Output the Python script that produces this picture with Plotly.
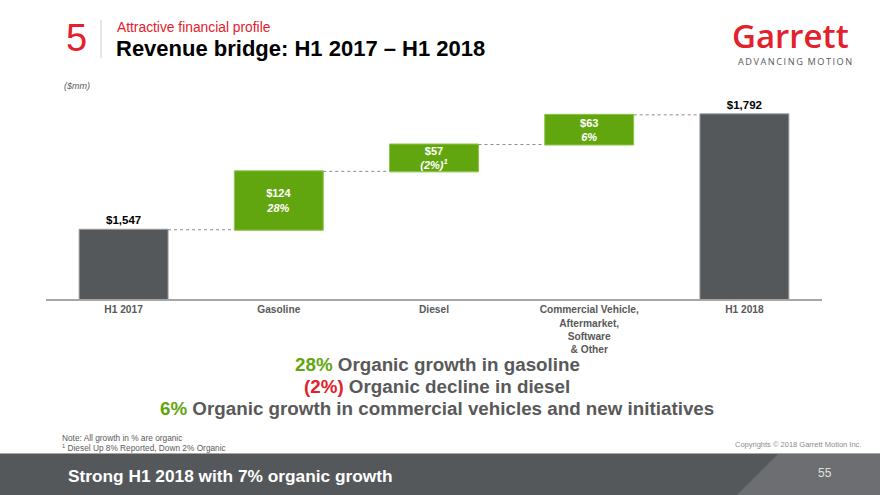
import plotly.graph_objects as go

# ---- data ----
categories = ["H1 2017", "Gasoline", "Diesel", "Commercial Vehicle,<br>Aftermarket,<br>Software<br>& Other", "H1 2018"]
values = [1547, 124, 57, 63, 1792]
measures = ["absolute", "relative", "relative", "relative", "absolute"]
growth = ["", "28%", "(2%)<sup>1</sup>", "6%", ""]

W, H = 880, 495
L, R, T, B = 46, 822, 90, 299  # plot area in pixels
Y0 = 1400
PX_PER_UNIT = 0.471
Y1 = Y0 + (B - T) / PX_PER_UNIT

def fx(px):
    return (px - L) / (R - L)

def fy(py):
    return (B - py) / (B - T)

GREEN = "#62a60f"
DARK = "#54585a"
RED = "#e3202b"
GREYTXT = "#595959"
FONT = "Liberation Sans, Arial, sans-serif"

labels = []
for v, m, g in zip(values, measures, growth):
    if m == "absolute":
        labels.append(f"<b>${v:,}</b>")
    else:
        labels.append(f"<b>${v:,}<br><i>{g}</i></b>")
positions = ["outside" if m == "absolute" else "inside" for m in measures]

fig = go.Figure()
fig.add_trace(go.Waterfall(
    x=categories, y=values, measure=measures,
    width=0.573,
    text=labels, textposition=positions, insidetextanchor="middle",
    textangle=0, constraintext="none", cliponaxis=False,
    insidetextfont=dict(color="white", size=11, family=FONT),
    outsidetextfont=dict(color="black", size=11.5, family=FONT),
    totals=dict(marker=dict(color=DARK, line=dict(color="#9a9c9d", width=1))),
    increasing=dict(marker=dict(color=GREEN, line=dict(color="#8cc447", width=1))),
    decreasing=dict(marker=dict(color=GREEN)),
    connector=dict(line=dict(color="#8c8c8c", width=1, dash="dot")),
    hoverinfo="skip",
))

annotations = []
def txt(px, py, s, size, color, xanchor="left", yanchor="middle", family=FONT, weight=None):
    f = dict(size=size, color=color, family=family)
    if weight:
        f["weight"] = weight
    annotations.append(dict(x=fx(px), y=fy(py), xref="paper", yref="paper", text=s,
                            showarrow=False, xanchor=xanchor, yanchor=yanchor, font=f))

# header
txt(64, 38, "5", 38, RED)
txt(115, 27, "Attractive financial profile", 13.8, RED)
txt(114, 48, "<b>Revenue bridge: H1 2017 \u2013 H1 2018</b>", 22, "black")
txt(62, 86, "<i>($mm)</i>", 9, GREYTXT)
# logo
txt(851, 35, "Garrett", 33, RED, xanchor="right", family="Open Sans, sans-serif", weight=600)
txt(854, 61, "\u2009".join("ADVANCING") + "\u2002" + "\u2009".join("MOTION"), 9.2, GREYTXT,
    xanchor="right", family="Open Sans, sans-serif")

# summary lines
txt(437, 364, f"<b><span style='color:{GREEN}'>28%</span> Organic growth in gasoline</b>", 18.8, GREYTXT, xanchor="center")
txt(437, 386, f"<b><span style='color:{RED}'>(2%)</span> Organic decline in diesel</b>", 18.8, GREYTXT, xanchor="center")
txt(437, 409, f"<b><span style='color:{GREEN}'>6%</span> Organic growth in commercial vehicles and new initiatives</b>", 18.8, GREYTXT, xanchor="center")

# notes
txt(60, 438, "Note: All growth in % are organic", 8.3, GREYTXT)
txt(60, 447.5, "<sup>1</sup> Diesel Up 8% Reported, Down 2% Organic", 8.3, GREYTXT)
txt(863, 444, "Copyrights \u00a9 2018 Garrett Motion Inc.", 7.5, "#8c8c8c", xanchor="right")

# footer
txt(66, 476, "<b>Strong H1 2018 with 7% organic growth</b>", 17.3, "white")
txt(825, 473, "55", 12, "#e0e0e0", xanchor="center")

shapes = [
    dict(type="rect", xref="paper", yref="paper", x0=fx(0), x1=fx(W), y0=fy(454), y1=fy(H),
         fillcolor=DARK, line=dict(width=0), layer="below"),
    dict(type="path", xref="paper", yref="paper",
         path=f"M {fx(778)} {fy(454)} L {fx(W)} {fy(454)} L {fx(W)} {fy(H)} L {fx(737)} {fy(H)} Z",
         fillcolor="#6d6e71", line=dict(width=0), layer="below"),
    dict(type="line", xref="paper", yref="paper", x0=fx(0), x1=fx(W), y0=fy(453.5), y1=fy(453.5),
         line=dict(color="#a6a6a6", width=1)),
    dict(type="line", xref="paper", yref="paper", x0=fx(101), x1=fx(101), y0=fy(20), y1=fy(58),
         line=dict(color="#cccccc", width=1)),
]

fig.update_layout(
    width=W, height=H,
    margin=dict(l=L, r=W - R, t=T, b=H - B),
    paper_bgcolor="white", plot_bgcolor="white",
    showlegend=False,
    font=dict(family=FONT),
    annotations=annotations, shapes=shapes,
    xaxis=dict(showline=True, linecolor="#a6a6a6", linewidth=2, showgrid=False,
               ticks="", tickfont=dict(size=10.2, color=GREYTXT, family=FONT),
               tickprefix="<b>", ticksuffix="</b>", fixedrange=True),
    yaxis=dict(range=[Y0, Y1], visible=False, showgrid=False, fixedrange=True),
)

fig.write_html("out.html", config={"displayModeBar": False})
